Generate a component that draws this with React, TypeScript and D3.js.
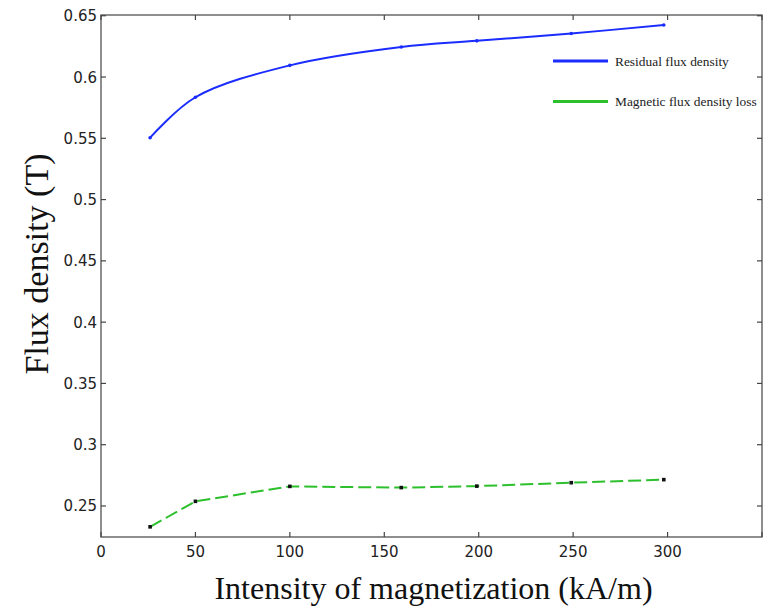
import React from "react";
import * as d3 from "d3";

const xValues = [26, 50, 100, 159, 199, 249, 298];
const residual = [0.5505, 0.5835, 0.6095, 0.6245, 0.6295, 0.6355, 0.6425];
const loss = [0.233, 0.2538, 0.266, 0.265, 0.2662, 0.269, 0.2715];
const xTicks = [0, 50, 100, 150, 200, 250, 300, 350];
const xTickLabels = ["0", "50", "100", "150", "200", "250", "300", ""];
const yTicks = [0.25, 0.3, 0.35, 0.4, 0.45, 0.5, 0.55, 0.6, 0.65];
const yTickLabels = ["0.25", "0.3", "0.35", "0.4", "0.45", "0.5", "0.55", "0.6", "0.65"];
const seriesNames = ["Residual flux density", "Magnetic flux density loss"];

const W = 765;
const H = 610;
const L = 101, R = 762, T = 15, B = 537;

export default function App() {
  const x = d3.scaleLinear().domain([0, 350]).range([L, R]);
  const y = d3.scaleLinear().domain([0.2247, 0.6506]).range([B, T]);
  const blueLine = d3
    .line<number>()
    .x((_, i) => x(xValues[i]))
    .y((d) => y(d))
    .curve(d3.curveCatmullRom.alpha(0.5));
  const greenLine = d3
    .line<number>()
    .x((_, i) => x(xValues[i]))
    .y((d) => y(d));
  const axisColor = "#444";
  return (
    <svg
      width={W}
      height={H}
      style={{ position: "absolute", left: 0, top: 0, background: "#fff" }}
    >
      <rect x={0} y={0} width={W} height={H} fill="#fff" />
      {/* frame */}
      <rect x={L} y={T} width={R - L} height={B - T} fill="none" stroke={axisColor} strokeWidth={1.2} />
      {xTicks.map((t, i) => (
        <g key={"xt" + i}>
          <line x1={x(t)} x2={x(t)} y1={B} y2={B - 5} stroke={axisColor} strokeWidth={1.2} />
          <line x1={x(t)} x2={x(t)} y1={T} y2={T + 5} stroke={axisColor} strokeWidth={1.2} />
          <text
            x={x(t)}
            y={B + 20}
            textAnchor="middle"
            fontFamily="DejaVu Sans"
            fontSize={15}
            fill="#222"
          >
            {xTickLabels[i]}
          </text>
        </g>
      ))}
      {yTicks.map((t, i) => (
        <g key={"yt" + i}>
          <line x1={L} x2={L + 5} y1={y(t)} y2={y(t)} stroke={axisColor} strokeWidth={1.2} />
          <line x1={R} x2={R - 5} y1={y(t)} y2={y(t)} stroke={axisColor} strokeWidth={1.2} />
          <text
            x={L - 4}
            y={y(t) + 5.5}
            textAnchor="end"
            fontFamily="DejaVu Sans"
            fontSize={15}
            fill="#222"
          >
            {yTickLabels[i]}
          </text>
        </g>
      ))}
      {/* series */}
      <path d={blueLine(residual) || ""} fill="none" stroke="#1a2cff" strokeWidth={2} />
      {residual.map((v, i) => (
        <circle key={"b" + i} cx={x(xValues[i])} cy={y(v)} r={1.8} fill="#1a2cff" />
      ))}
      <path
        d={greenLine(loss) || ""}
        fill="none"
        stroke="#2dc02d"
        strokeWidth={2}
        strokeDasharray="13 5"
      />
      {loss.map((v, i) => (
        <rect key={"g" + i} x={x(xValues[i]) - 1.8} y={y(v) - 1.8} width={3.6} height={3.6} fill="#111" />
      ))}
      {/* legend */}
      <line x1={553} x2={608} y1={61} y2={61} stroke="#1a2cff" strokeWidth={3} />
      <text x={615} y={65.5} fontFamily="Liberation Serif" fontSize={13.4} fill="#222">
        {seriesNames[0]}
      </text>
      <line x1={553} x2={608} y1={101.5} y2={101.5} stroke="#2dc02d" strokeWidth={3} />
      <text x={615} y={106} fontFamily="Liberation Serif" fontSize={13.4} fill="#222">
        {seriesNames[1]}
      </text>
      {/* titles */}
      <text
        x={433.5}
        y={599}
        textAnchor="middle"
        fontFamily="Liberation Serif"
        fontSize={32}
        fill="#111"
      >
        Intensity of magnetization (kA/m)
      </text>
      <text
        transform={`translate(48,264) rotate(-90)`}
        textAnchor="middle"
        fontFamily="Liberation Serif"
        fontSize={34}
        fill="#111"
      >
        Flux density (T)
      </text>
    </svg>
  );
}
